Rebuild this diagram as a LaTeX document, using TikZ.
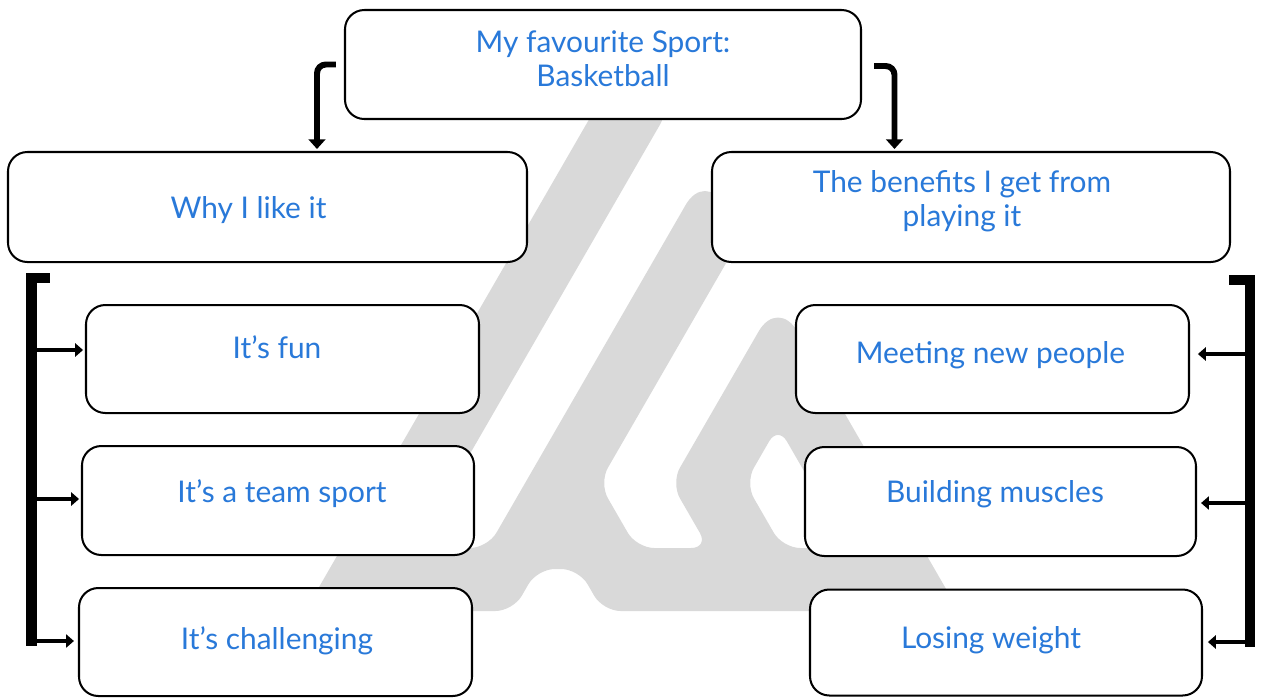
\documentclass[tikz,border=0pt]{standalone}
\usepackage{fontspec}
\setmainfont{Lato}
\usetikzlibrary{arrows.meta}

\definecolor{txtblue}{RGB}{41,121,217}
\definecolor{logogray}{RGB}{217,217,217}

\tikzset{
	card/.style 2 args={draw=black, line width=1.15pt, fill=white, rounded corners=11pt,
		minimum width=#1*0.02cm, minimum height=#2*0.02cm, inner sep=0pt},
	lbl/.style={text=txtblue, font=\fontsize{17}{19.3}\selectfont, inner sep=0pt,
		text height=12.2pt, text depth=0pt},
	lbltwo/.style={text=txtblue, font=\fontsize{17}{19.3}\selectfont, inner sep=0pt, align=center},
	bigarr/.style={line width=3.4pt, rounded corners=5pt, -{Triangle[length=5.5pt,width=9.5pt]}},
	brk/.style={line width=5.7pt, line cap=rect},
	smallarr/.style={line width=2.6pt, -{Triangle[length=4.5pt,width=7.5pt]}},
}

\begin{document}
\begin{tikzpicture}[x=0.02cm,y=-0.02cm]
		\useasboundingbox (0,0) rectangle (1262,698);
		
		% logo in the background
		\fill[logogray, even odd rule, rounded corners=10pt]
			(305.2,611) -- (632,45) -- (669,109) -- (415.6,548) -- (487.6,548)
			[rounded corners=22pt] -- (705,171.4) [rounded corners=10pt] -- (742,235.5) -- (599.1,483)
			-- (636.6,548) -- (708.6,548) -- (671.1,483) [rounded corners=22pt] -- (778,297.9)
			[rounded corners=10pt] -- (958.8,611) -- (603,611) -- (578.8,569) -- (537.2,569) -- (513,611) -- cycle
			(778,426) -- (745.1,483) -- (782.6,548) -- (848.4,548) -- cycle;
		
		% boxes
		\node[card={516}{109}] (top) at (603,64.5) {};
		\node[card={519}{110}] (why) at (267.5,207) {};
		\node[card={518}{110}] (ben) at (971,207) {};
		\node[card={393}{108}] (fun) at (282.5,359) {};
		\node[card={392}{109}] (team) at (278,500.5) {};
		\node[card={393}{108}] (chal) at (275.5,642) {};
		\node[card={393}{108}] (meet) at (992.5,359) {};
		\node[card={391}{109}] (build) at (1000.5,501.5) {};
		\node[card={392}{106}] (lose) at (1006,642.5) {};
		
		% texts
		\node[lbltwo] (topt) at (603,59) {My favourite Sport:\\Basketball};
		\node[lbl] (whyt) at (248.5,207.5) {Why I like it};
		\node[lbltwo] (bent) at (962,201) {The benefits I get from\\playing it};
		\node[lbl] (funt) at (277,348) {It’s fun};
		\node[lbl] (teamt) at (282,492) {It’s a team sport};
		\node[lbl] (chalt) at (277,639) {It’s challenging};
		\node[lbl] (meett) at (990.5,353) {Meeting new people};
		\node[lbl] (buildt) at (995,492) {Building muscles};
		\node[lbl] (loset) at (991,638) {Losing weight};
		
		% top arrows
		\draw[bigarr] ([shift={(-8,0)}]top.west) -| ([shift={(49.5,-2)}]why.north);
		\draw[bigarr] ([shift={(12,1.5)}]top.east) -| ([shift={(-76.5,-2)}]ben.north);
		
		% left bracket
		\coordinate (ltop) at (45,278);
		\coordinate (lbot) at (31.5,641);
		\coordinate (lfun) at (31.5,350);
		\coordinate (lteam) at (31.5,499);
		\draw[brk] (ltop) -| (lbot);
		\draw[smallarr,shorten >=1.1pt] (lfun) -- (lfun -| fun.west);
		\draw[smallarr,shorten >=1.1pt] (lteam) -- (lteam -| team.west);
		\draw[smallarr,shorten >=2.3pt] (lbot) -- (lbot -| chal.west);
		
		% right bracket
		\coordinate (rtop) at (1234,280);
		\coordinate (rbot) at (1250,642);
		\coordinate (rmeet) at (1250,354);
		\coordinate (rbuild) at (1250,503);
		\draw[brk] (rtop) -| (rbot);
		\draw[smallarr,shorten >=4.5pt] (rmeet) -- (rmeet -| meet.east);
		\draw[smallarr,shorten >=2.3pt] (rbuild) -- (rbuild -| build.east);
		\draw[smallarr,shorten >=2.8pt] (rbot) -- (rbot -| lose.east);
	\end{tikzpicture}
\end{document}
